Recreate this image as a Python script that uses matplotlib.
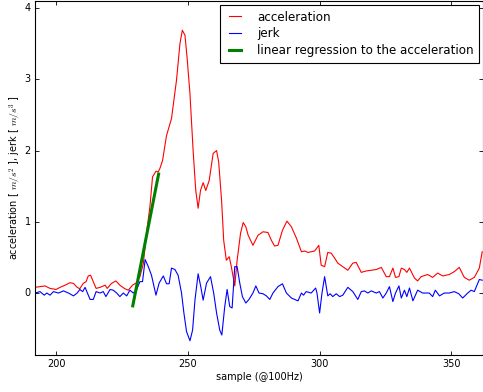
import matplotlib
matplotlib.use("Agg")
import matplotlib.pyplot as plt

# values (sample index, value)
acc_x = [192, 195.8, 197.7, 200, 201.5, 203.4, 205.3, 206.6, 208, 209, 210.3, 211.4,
         212.2, 213.1, 214.1, 215.2, 216.7, 218.6, 219.4, 221, 222.7, 224.2, 226.1,
         227.4, 229, 230.6, 231.8, 233.1, 234.3, 235.6, 236.6, 237.9, 238.8, 239.4,
         240.4, 241.9, 243.8, 245.7, 247, 247.9, 248.9, 249.7, 250.8, 252, 253, 253.9,
         254.8, 255.8, 256.8, 258.1, 259.6, 260.9, 261.7, 262.8, 263.6, 264.6, 265.7,
         266.5, 267.8, 268.7, 270, 271, 272, 272.9, 274.7, 276.6, 278.5, 280.4, 281.7,
         282.9, 284.2, 285.9, 287.6, 289.3, 291.2, 293.1, 294.3, 295.6, 298.1, 299.7,
         300.6, 301.9, 303.1, 304.4, 305.7, 306.9, 308.8, 310.7, 312.6, 313.9, 315.8,
         317.7, 319.6, 321.5, 323.4, 325.3, 326.5, 327.8, 328.8, 330.1, 331, 332.2,
         333.1, 334.1, 336, 337.2, 338.5, 341, 342.9, 344.8, 346.7, 349.2, 351.1, 353,
         354.9, 356.8, 358.7, 360.6, 361.7]
acc_y = [0.08, 0.10, 0.065, 0.05, 0.08, 0.11, 0.145, 0.135, 0.08, 0.06, 0.135, 0.16,
         0.24, 0.25, 0.16, 0.065, 0.08, 0.11, 0.065, 0.135, 0.17, 0.11, 0.06,
         0.04, 0.11, 0.145, 0.23, 0.41, 0.84, 1.21, 1.63, 1.71, 1.70, 1.75,
         1.86, 2.21, 2.45, 2.99, 3.50, 3.69, 3.62, 3.31, 2.80, 2.00, 1.44, 1.19,
         1.44, 1.55, 1.44, 1.58, 1.96, 2.00, 1.84, 1.30, 0.74, 0.46, 0.51,
         0.37, 0.10, 0.46, 0.84, 0.99, 0.93, 0.81, 0.67, 0.81, 0.86, 0.85, 0.74,
         0.66, 0.67, 0.88, 1.01, 0.93, 0.77, 0.58, 0.59, 0.57, 0.59, 0.67,
         0.39, 0.37, 0.57, 0.56, 0.49, 0.42, 0.37, 0.32, 0.42, 0.43, 0.29,
         0.31, 0.32, 0.33, 0.36, 0.23, 0.23, 0.35, 0.22, 0.23, 0.35, 0.33,
         0.29, 0.35, 0.21, 0.17, 0.23, 0.26, 0.22, 0.28, 0.24, 0.26, 0.30, 0.36,
         0.22, 0.18, 0.22, 0.35, 0.58]

jerk_x = [192, 193.9, 195.5, 196.5, 197.7, 199, 200.9, 202.8, 204.7, 206.6, 208, 209,
          210.1, 211, 211.9, 212.9, 214.1, 215.2, 216.7, 217.9, 218.9, 220.5, 221.7,
          223, 224.2, 225.5, 226.8, 228, 229.3, 230.6, 231.8, 232.8, 233.8, 235,
          236.2, 237.9, 239.1, 240.7, 241.9, 242.9, 243.8, 245.1, 246.3, 247.6,
          248.5, 249.5, 250.8, 251.8, 252.7, 253.9, 254.9, 255.8, 257.1, 258.6,
          259.8, 260.9, 262.1, 262.9, 264, 264.9, 265.9, 266.8, 267.8, 268.7, 269.7,
          270.7, 272, 273.2, 274.7, 275.8, 277, 278.5, 279.8, 281.1, 282.3, 284.2,
          285.9, 287.4, 289.3, 291.8, 293.1, 293.9, 294.9, 296.8, 298.5, 299, 300,
          300.9, 301.9, 303.1, 304, 305, 306.3, 307.6, 308.8, 310.7, 312.6, 314.5,
          315.8, 317, 318.3, 319.6, 321.5, 322.7, 324, 325.3, 326.5, 327.8, 328.8,
          330.1, 331, 332.2, 333.1, 334.1, 335.4, 337.2, 339.1, 341.6, 342.9, 343.9,
          345.5, 347.3, 349.2, 351.1, 352.8, 354.3, 356.2, 357.5, 358.7, 360.6, 361.7]
jerk_y = [0.0, 0.02, -0.03, 0.0, -0.03, 0.02, 0.0, 0.03, 0.0, -0.04, 0.0, 0.05,
          0.02, 0.08, 0.0, -0.09, -0.09, 0.02, 0.0, 0.02, -0.05, 0.05, 0.04,
          0.0, -0.05, 0.0, -0.04, 0.04, 0.0, 0.05, 0.16, 0.16, 0.47, 0.37,
          0.25, -0.03, 0.14, 0.24, 0.13, 0.13, 0.35, 0.33, 0.25, 0.0,
          -0.28, -0.54, -0.67, -0.52, -0.10, 0.27, 0.09, -0.10, 0.14, 0.23,
          0.0, -0.28, -0.52, -0.59, -0.19, 0.05, -0.19, -0.21, 0.37, 0.37, 0.14,
          -0.05, -0.14, -0.09, 0.0, 0.10, 0.0, -0.01, -0.04, -0.09, 0.0, 0.09,
          0.13, 0.0, -0.07, -0.11, 0.0, -0.03, 0.02, 0.0, 0.07, 0.0, -0.28,
          0.0, 0.23, -0.04, -0.01, -0.05, -0.01, -0.05, -0.03, 0.08, 0.02, -0.09,
          0.02, 0.03, 0.0, 0.03, 0.0, 0.02, -0.07, 0.0, 0.09, -0.12, 0.0,
          0.10, -0.07, 0.04, -0.05, 0.07, -0.11, 0.04, 0.0, 0.0, -0.05, 0.04,
          -0.04, 0.0, 0.0, 0.02, -0.01, -0.07, 0.0, 0.04, 0.02, 0.19, 0.18]

# end points of the fitted line
reg_x = [229.1, 238.9]
reg_y = [-0.18, 1.67]

plt.style.use("classic")
plt.rcParams["mathtext.fontset"] = "cm"

fig = plt.figure(figsize=(4.83, 3.92), dpi=100, facecolor="white")
ax = fig.add_axes([35 / 483, 37 / 392, 448 / 483, 354 / 392])

ax.plot(acc_x, acc_y, color="r", lw=0.8, label="acceleration")
ax.plot(jerk_x, jerk_y, color="b", lw=0.8, label="jerk")
ax.plot(reg_x, reg_y, color="g", lw=2.2, label="linear regression to the acceleration")

ax.set_xlim(192, 362)
ax.set_ylim(-0.87, 4.1)
ax.set_xticks([200, 250, 300, 350])
ax.set_yticks([0, 1, 2, 3, 4])
ax.tick_params(labelsize=7, length=3, width=0.6, pad=3)
for s in ax.spines.values():
    s.set_linewidth(0.8)

ax.set_xlabel("sample (@100Hz)", fontsize=7, labelpad=2)
ax.set_ylabel(r"acceleration [ $m/s^2$ ], jerk [ $m/s^3$ ]", fontsize=7, labelpad=1)

leg = ax.legend(loc="upper right", fontsize=8.6, handlelength=1.6, handletextpad=1.0,
                borderpad=0.45, labelspacing=0.33, borderaxespad=0.35)
leg.get_frame().set_linewidth(0.8)

fig.savefig("out.png", dpi=100, facecolor="white")
